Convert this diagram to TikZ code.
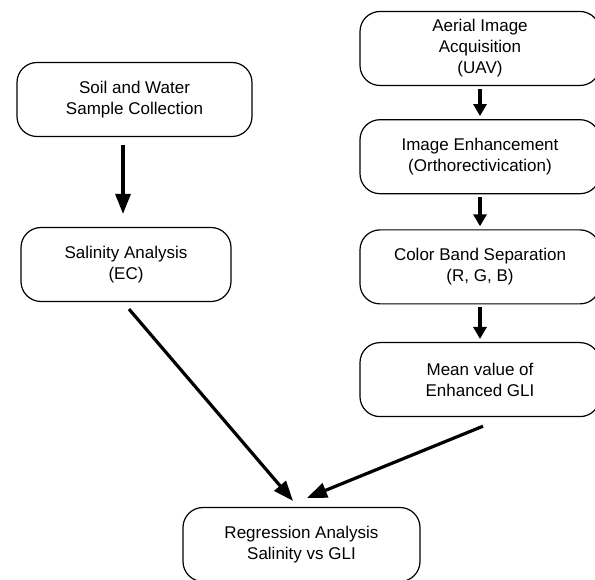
\documentclass[tikz,border=0pt]{standalone}
\usepackage{fontspec}
\setmainfont{Liberation Sans}
\usetikzlibrary{arrows.meta}
\usetikzlibrary{positioning}

\begin{document}
\begin{tikzpicture}[x=1pt, y=1pt,
    every node/.style={font=\fontsize{17}{21}\selectfont, align=center},
    stage/.style={draw, line width=1.2pt, rounded corners=20pt,
      minimum width=240pt, minimum height=74pt, inner sep=2pt},
    flow/.style={line width=3.2pt, -{Triangle[length=20pt,width=15pt]}},
    shortflow/.style={line width=3.2pt, -{Triangle[length=12pt,width=13pt]},
      shorten <=3pt, shorten >=3pt}
  ]
  \useasboundingbox (0,0) rectangle (595,579);

  \node[stage, minimum width=235pt] (soil) at (134.5,479.5)
    {Soil and Water\\Sample Collection};
  \node[stage, minimum width=210pt] (salin) at (126,314.5)
    {Salinity Analysis\\(EC)};

  \node[stage] (uav) at (480,530.5) {Aerial Image\\Acquisition\\(UAV)};
  \node[stage, below=33pt of uav] (enh) {Image Enhancement\\(Orthorectivication)};
  \node[stage, below=35pt of enh] (rgb) {Color Band Separation\\(R, G, B)};
  \node[stage, below=37.5pt of rgb] (gli) {Mean value of\\Enhanced GLI};

  \node[stage, minimum width=237pt] (regr) at (301.5,34.5)
    {Regression Analysis\\Salinity vs GLI};

  \draw[flow] ([xshift=-3pt,yshift=-8pt]salin.north |- soil.south)
    to ([xshift=-3pt,yshift=13pt]salin.north);
  \draw[shortflow] (uav) to (enh);
  \draw[shortflow] (enh) to (rgb);
  \draw[shortflow] (rgb) to (gli);
  \draw[flow] ([xshift=3pt,yshift=-7pt]salin.south)
    to ([xshift=-8.5pt,yshift=6pt]regr.north);
  \draw[flow] ([xshift=3pt,yshift=-9pt]gli.south)
    to ([xshift=5.5pt,yshift=9pt]regr.north);
\end{tikzpicture}
\end{document}
